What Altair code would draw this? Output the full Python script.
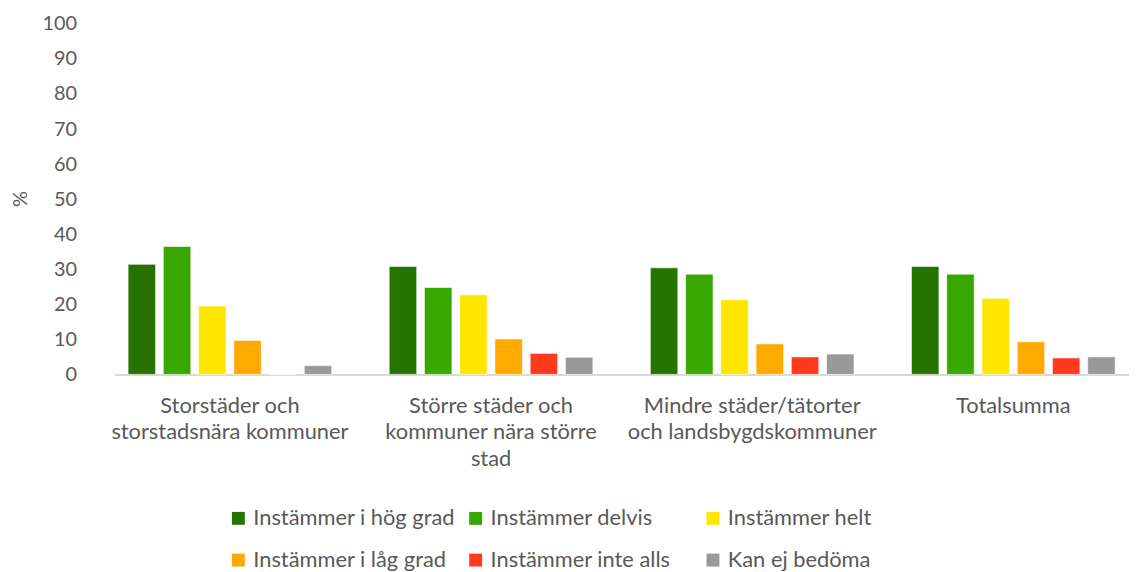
import altair as alt
import pandas as pd

categories = [
    "Storstäder och storstadsnära kommuner",
    "Större städer och kommuner nära större stad",
    "Mindre städer/tätorter och landsbygdskommuner",
    "Totalsumma",
]
category_lines = [
    ["Storstäder och", "storstadsnära kommuner"],
    ["Större städer och", "kommuner nära större", "stad"],
    ["Mindre städer/tätorter", "och landsbygdskommuner"],
    ["Totalsumma"],
]
series = [
    "Instämmer i hög grad",
    "Instämmer delvis",
    "Instämmer helt",
    "Instämmer i låg grad",
    "Instämmer inte alls",
    "Kan ej bedöma",
]
colors = ["#267300", "#38A800", "#FFE600", "#FFAA00", "#FF3A1E", "#999999"]

hog_grad = [31.4, 30.8, 30.4, 30.8]
delvis = [36.5, 24.8, 28.6, 28.6]
helt = [19.5, 22.7, 21.3, 21.7]
lag_grad = [9.7, 10.1, 8.7, 9.3]
inte_alls = [0.0, 6.0, 5.0, 4.7]
kan_ej = [2.5, 4.9, 5.8, 5.0]

values = [hog_grad, delvis, helt, lag_grad, inte_alls, kan_ej]

rows = []
for s, vals in zip(series, values):
    for c, v in zip(categories, vals):
        rows.append({"Kategori": c, "Svar": s, "Procent": v})
df = pd.DataFrame(rows)

label_expr = ""
for c, lines in zip(categories, category_lines):
    arr = "[" + ",".join("'" + l + "'" for l in lines) + "]"
    label_expr += f"datum.label == '{c}' ? {arr} : "
label_expr += "datum.label"

FONT = "Lato"
GREY = "#595959"

chart = (
    alt.Chart(df)
    .mark_bar(stroke="#ffffff", strokeWidth=1, strokeOpacity=0.6)
    .encode(
        x=alt.X(
            "Kategori:N",
            sort=categories,
            scale=alt.Scale(paddingInner=0.22, paddingOuter=0.053),
            axis=alt.Axis(
                title=None,
                labelAngle=0,
                labelExpr=label_expr,
                labelFont=FONT,
                labelFontSize=22,
                labelColor=GREY,
                labelLineHeight=27,
                labelPadding=21,
                labelBaseline="top",
                ticks=False,
                domainColor="#d9d9d9",
                domainWidth=2,
                labelLimit=400,
            ),
        ),
        xOffset=alt.XOffset(
            "Svar:N", sort=series, scale=alt.Scale(paddingInner=0.22, paddingOuter=0)
        ),
        y=alt.Y(
            "Procent:Q",
            scale=alt.Scale(domain=[0, 100]),
            axis=alt.Axis(
                title="%",
                values=list(range(0, 101, 10)),
                grid=False,
                domain=False,
                ticks=False,
                labelFont=FONT,
                labelFontSize=20,
                labelColor=GREY,
                labelPadding=38,
                titleFont=FONT,
                titleFontSize=20,
                titleFontWeight="normal",
                titleColor=GREY,
                titleX=-94,
                titleY=176,
                titleAngle=-90,
                titleAlign="center",
                titleBaseline="middle",
            ),
        ),
        color=alt.Color(
            "Svar:N",
            sort=series,
            scale=alt.Scale(domain=series, range=colors),
            legend=alt.Legend(
                title=None,
                orient="none",
                direction="horizontal",
                legendX=114,
                legendY=487,
                columns=3,
                gridAlign="all",
                columnPadding=9,
                rowPadding=20,
                symbolType="square",
                symbolSize=169,
                symbolStrokeWidth=0,
                symbolOffset=0,
                labelFont=FONT,
                labelFontSize=22,
                labelColor=GREY,
                labelOffset=4,
                labelLimit=400,
            ),
        ),
    )
    .properties(
        width=1022,
        height=353,
        autosize=alt.AutoSizeParams(type="none"),
        padding={"left": 107, "top": 14, "right": 0, "bottom": 197},
        background="#ffffff",
    )
    .configure_view(strokeWidth=0, stroke="transparent")
)

chart.save("out.html", embed_options={"renderer": "svg", "actions": False})
